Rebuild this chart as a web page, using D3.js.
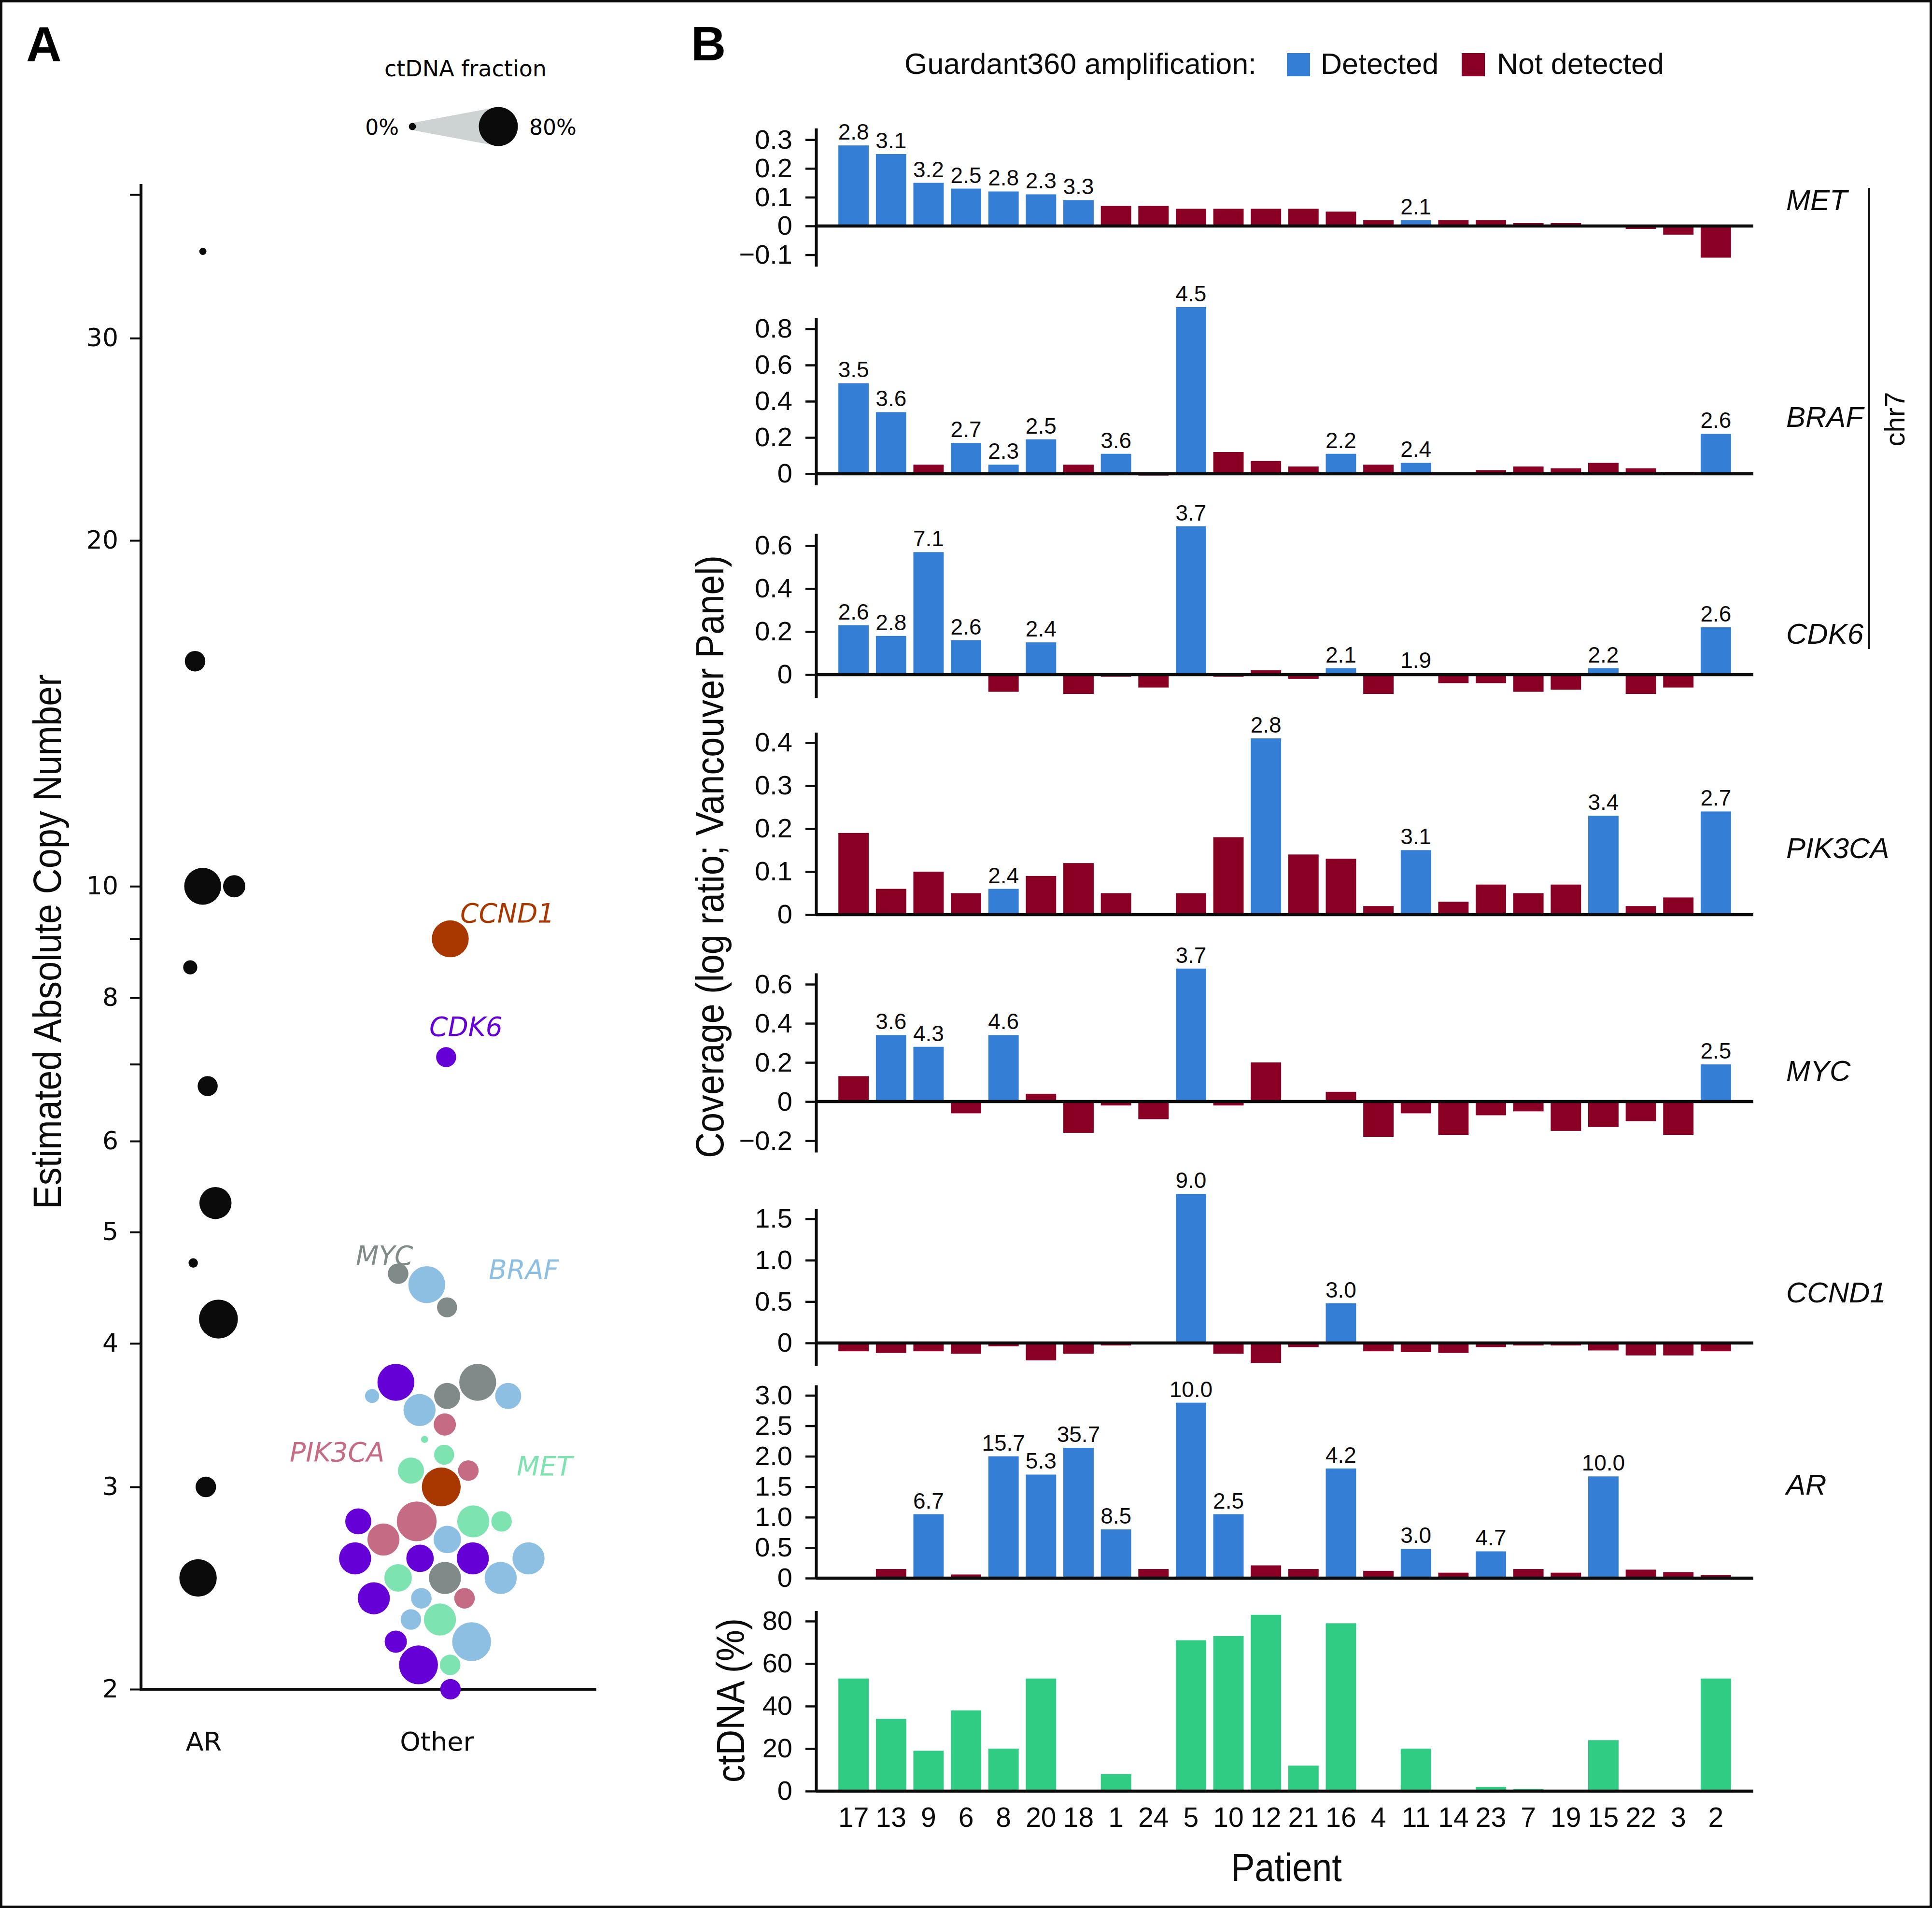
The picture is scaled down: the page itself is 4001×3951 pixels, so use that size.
<!DOCTYPE html>
<html><head><meta charset="utf-8">
<script src="https://cdn.jsdelivr.net/npm/d3@7"></script>
<style>body{margin:0;background:#fff}svg{display:block}</style>
</head><body>
<svg id="chart" width="4001" height="3951"></svg>
<script>
// ---------------- DATA ----------------
const patients = ["17","13","9","6","8","20","18","1","24","5","10","12","21","16","4","11","14","23","7","19","15","22","3","2"];
const ctDNA = [53,34,19,38,20,53,0,8,0,71,73,83,12,79,0,20,0,2,1,0,24,0,0,53];

const metLogRatio    = [0.28,0.25,0.15,0.13,0.12,0.11,0.09,0.07,0.07,0.06,0.06,0.06,0.06,0.05,0.02,0.02,0.02,0.02,0.01,0.01,0,-0.01,-0.03,-0.11];
const metCopies      = [2.8,3.1,3.2,2.5,2.8,2.3,3.3,null,null,null,null,null,null,null,null,2.1,null,null,null,null,null,null,null,null];
const brafLogRatio   = [0.50,0.34,0.05,0.17,0.05,0.19,0.05,0.11,-0.01,0.92,0.12,0.07,0.04,0.11,0.05,0.06,0,0.02,0.04,0.03,0.06,0.03,0.01,0.22];
const brafCopies     = [3.5,3.6,null,2.7,2.3,2.5,null,3.6,null,4.5,null,null,null,2.2,null,2.4,null,null,null,null,null,null,null,2.6];
const cdk6LogRatio   = [0.23,0.18,0.57,0.16,-0.08,0.15,-0.09,-0.01,-0.06,0.69,-0.01,0.02,-0.02,0.03,-0.09,0.004,-0.04,-0.04,-0.08,-0.07,0.03,-0.09,-0.06,0.22];
const cdk6Copies     = [2.6,2.8,7.1,2.6,null,2.4,null,null,null,3.7,null,null,null,2.1,null,1.9,null,null,null,null,2.2,null,null,2.6];
const pik3caLogRatio = [0.19,0.06,0.10,0.05,0.06,0.09,0.12,0.05,0,0.05,0.18,0.41,0.14,0.13,0.02,0.15,0.03,0.07,0.05,0.07,0.23,0.02,0.04,0.24];
const pik3caCopies   = [null,null,null,null,2.4,null,null,null,null,null,null,2.8,null,null,null,3.1,null,null,null,null,3.4,null,null,2.7];
const mycLogRatio    = [0.13,0.34,0.28,-0.06,0.34,0.04,-0.16,-0.02,-0.09,0.68,-0.02,0.20,0,0.05,-0.18,-0.06,-0.17,-0.07,-0.05,-0.15,-0.13,-0.10,-0.17,0.19];
const mycCopies      = [null,3.6,4.3,null,4.6,null,null,null,null,3.7,null,null,null,null,null,null,null,null,null,null,null,null,null,2.5];
const ccnd1LogRatio  = [-0.10,-0.12,-0.10,-0.13,-0.04,-0.21,-0.13,-0.03,0,1.80,-0.13,-0.24,-0.05,0.48,-0.10,-0.11,-0.12,-0.05,-0.03,-0.03,-0.09,-0.15,-0.15,-0.10];
const ccnd1Copies    = [null,null,null,null,null,null,null,null,null,9.0,null,null,null,3.0,null,null,null,null,null,null,null,null,null,null];
const arLogRatio     = [0,0.15,1.05,0.06,2.00,1.70,2.14,0.80,0.15,2.88,1.05,0.21,0.15,1.80,0.12,0.48,0.09,0.44,0.15,0.09,1.67,0.14,0.10,0.05];
const arCopies       = [null,null,6.7,null,15.7,5.3,35.7,8.5,null,10.0,2.5,null,null,4.2,null,3.0,null,4.7,null,null,10.0,null,null,null];

const geneNames   = ["MET","BRAF","CDK6","PIK3CA","MYC","CCND1","AR"];
const copyTicks   = [2,3,4,5,6,7,8,9,10,20,30,40];
const copyLabels  = [2,3,4,5,6,8,10,20,30];
const groups      = ["AR","Other"];

// ---------------- STYLE / LAYOUT ----------------
const SANS = "'Liberation Sans', Arial, Helvetica, sans-serif";
const GEO  = "'DejaVu Sans', Verdana, sans-serif";
const BLUE = "#347fd5", RED = "#8a0024", GREEN = "#30cc84";
const geneColor = {AR:"#0b0b0b", CCND1:"#a83800", CDK6:"#6500d6", MYC:"#808b89", BRAF:"#8dbfe3", PIK3CA:"#c66b84", MET:"#7de3b0"};

const svg = d3.select("#chart");
svg.append("rect").attr("x",0).attr("y",0).attr("width",4001).attr("height",3951).attr("fill","#fff");
svg.append("rect").attr("x",2.5).attr("y",2.5).attr("width",3996).attr("height",3946)
   .attr("fill","none").attr("stroke","#0b0b0b").attr("stroke-width",5);

// Panel letters
svg.append("text").attr("x",54).attr("y",127).attr("font-family",SANS).attr("font-weight","bold").attr("font-size",102).text("A");
svg.append("text").attr("x",1431).attr("y",125).attr("font-family",SANS).attr("font-weight","bold").attr("font-size",100).text("B");

// ================= PANEL B =================
const AX = 1690, AXR = 3631;
const x = d3.scaleBand().domain(patients).range([AX, AXR]).paddingInner(0.19).paddingOuter(0.595);

const series = {
  MET:{lr:metLogRatio, cn:metCopies}, BRAF:{lr:brafLogRatio, cn:brafCopies}, CDK6:{lr:cdk6LogRatio, cn:cdk6Copies},
  PIK3CA:{lr:pik3caLogRatio, cn:pik3caCopies}, MYC:{lr:mycLogRatio, cn:mycCopies},
  CCND1:{lr:ccnd1LogRatio, cn:ccnd1Copies}, AR:{lr:arLogRatio, cn:arCopies}
};
const layout = {
  MET:   {top:265.4, bottom:551.4, domain:[-0.14,0.34],  ticks:[-0.1,0,0.1,0.2,0.3], labelY:435},
  BRAF:  {top:658.1, bottom:1004.6,domain:[-0.063,0.861],ticks:[0,0.2,0.4,0.6,0.8], labelY:884},
  CDK6:  {top:1105,  bottom:1445,  domain:[-0.108,0.656],ticks:[0,0.2,0.4,0.6], labelY:1333},
  PIK3CA:{top:1516.6,bottom:1894,  domain:[0,0.424],     ticks:[0,0.1,0.2,0.3,0.4], labelY:1777},
  MYC:   {top:2015,  bottom:2386,  domain:[-0.259,0.657],ticks:[-0.2,0,0.2,0.4,0.6], labelY:2238},
  CCND1: {top:2503,  bottom:2828,  domain:[-0.274,1.622],ticks:[0,0.5,1,1.5], labelY:2697},
  AR:    {top:2868,  bottom:3268,  domain:[0,3.17],      ticks:[0,0.5,1,1.5,2,2.5,3], labelY:3095}
};
const fmtTick = v => v === 0 ? "0" : (v < 0 ? "\u2212" : "") + Math.abs(v).toFixed(1);
const fmtCN = d3.format(".1f");

function styleAxis(g, fontSize, family){
  g.select(".domain").attr("stroke","#0b0b0b").attr("stroke-width",6);
  g.selectAll(".tick line").attr("stroke","#0b0b0b").attr("stroke-width",4.5);
  g.selectAll(".tick text").attr("font-family",family).attr("font-size",fontSize).attr("fill","#0b0b0b");
}

geneNames.forEach(gene => {
  const L = layout[gene], S = series[gene];
  const y = d3.scaleLinear().domain(L.domain).range([L.bottom, L.top]);
  const g = svg.append("g");
  const rows = patients.map((p,i) => ({p, v:S.lr[i], cn:S.cn[i]}));
  g.selectAll("rect.bar").data(rows.filter(d => d.v !== 0)).join("rect")
    .attr("x", d => x(d.p)).attr("width", x.bandwidth())
    .attr("y", d => Math.min(y(d.v), y(0)))
    .attr("height", d => Math.abs(y(d.v) - y(0)))
    .attr("fill", d => d.cn != null ? BLUE : RED);
  g.selectAll("text.val").data(rows.filter(d => d.cn != null)).join("text")
    .attr("x", d => x(d.p) + x.bandwidth()/2)
    .attr("y", d => y(Math.max(d.v,0)) - 12)
    .attr("text-anchor","middle").attr("font-family",SANS).attr("font-size",46).attr("fill","#0b0b0b")
    .text(d => fmtCN(d.cn));
  g.append("line").attr("x1",AX).attr("x2",AXR).attr("y1",y(0)).attr("y2",y(0))
    .attr("stroke","#0b0b0b").attr("stroke-width",6.5);
  const ax = g.append("g").attr("transform",`translate(${AX},0)`)
    .call(d3.axisLeft(y).tickValues(L.ticks).tickSize(22).tickSizeOuter(0).tickPadding(27).tickFormat(fmtTick));
  styleAxis(ax, 56, SANS);
  g.append("text").attr("x",3699).attr("y",L.labelY).attr("font-family",SANS).attr("font-style","italic")
    .attr("font-size",60).attr("fill","#0b0b0b").text(gene);
});

// ctDNA panel
{
  const y = d3.scaleLinear().domain([0,84.9]).range([3709,3335.4]);
  const g = svg.append("g");
  g.selectAll("rect").data(patients.map((p,i)=>({p, v:ctDNA[i]})).filter(d=>d.v>0)).join("rect")
    .attr("x", d => x(d.p)).attr("width", x.bandwidth())
    .attr("y", d => y(d.v)).attr("height", d => y(0) - y(d.v)).attr("fill", GREEN);
  g.append("line").attr("x1",AX).attr("x2",AXR).attr("y1",y(0)).attr("y2",y(0))
    .attr("stroke","#0b0b0b").attr("stroke-width",6.5);
  const ax = g.append("g").attr("transform",`translate(${AX},0)`)
    .call(d3.axisLeft(y).tickValues([0,20,40,60,80]).tickSize(22).tickSizeOuter(0).tickPadding(27));
  styleAxis(ax, 56, SANS);
  const bx = g.append("g").attr("transform",`translate(0,${y(0)})`)
    .call(d3.axisBottom(x).tickSize(0).tickPadding(34));
  bx.select(".domain").remove();
  bx.selectAll(".tick text").attr("font-family",SANS).attr("font-size",57).attr("fill","#0b0b0b");
}

// chr7 bracket
svg.append("line").attr("x1",3870).attr("x2",3870).attr("y1",389).attr("y2",1344).attr("stroke","#0b0b0b").attr("stroke-width",4);
svg.append("text").attr("transform","translate(3944,868) rotate(-90)").attr("text-anchor","middle")
  .attr("font-family",SANS).attr("font-size",58).attr("fill","#0b0b0b").text("chr7");

// axis titles B
svg.append("text").attr("transform","translate(1498,1774) rotate(-90) scale(0.91,1)").attr("text-anchor","middle")
  .attr("font-family",SANS).attr("font-size",81).attr("fill","#0b0b0b").text("Coverage (log ratio; Vancouver Panel)");
svg.append("text").attr("transform","translate(1541,3521) rotate(-90) scale(0.9,1)").attr("text-anchor","middle")
  .attr("font-family",SANS).attr("font-size",81).attr("fill","#0b0b0b").text("ctDNA (%)");
svg.append("text").attr("transform","translate(2664,3895) scale(0.9,1)").attr("text-anchor","middle")
  .attr("font-family",SANS).attr("font-size",82).attr("fill","#0b0b0b").text("Patient");

// legend B
svg.append("text").attr("x",1873).attr("y",153).attr("font-family",SANS).attr("font-size",61).attr("fill","#0b0b0b").text("Guardant360 amplification:");
svg.append("rect").attr("x",2665).attr("y",110).attr("width",48).attr("height",48).attr("fill",BLUE);
svg.append("text").attr("x",2735).attr("y",153).attr("font-family",SANS).attr("font-size",61).attr("fill","#0b0b0b").text("Detected");
svg.append("rect").attr("x",3027).attr("y",110).attr("width",48).attr("height",48).attr("fill",RED);
svg.append("text").attr("x",3100).attr("y",153).attr("font-family",SANS).attr("font-size",61).attr("fill","#0b0b0b").text("Not detected");

// ================= PANEL A =================
const yL = d3.scaleLog().domain([2,40]).range([3498,403]).clamp(true);
const xL = d3.scalePoint().domain(groups).range([422,905]);
const areaScale = d3.scaleLinear().domain([0,80]).range([7.4*7.4, 40.5*40.5]);
const rad = c => Math.sqrt(areaScale(c));

// axes
svg.append("line").attr("x1",292).attr("x2",292).attr("y1",381).attr("y2",3501).attr("stroke","#0b0b0b").attr("stroke-width",6);
svg.append("line").attr("x1",289).attr("x2",1235).attr("y1",3498).attr("y2",3498).attr("stroke","#0b0b0b").attr("stroke-width",6);
const axL = svg.append("g").attr("transform","translate(292,0)")
  .call(d3.axisLeft(yL).tickValues(copyTicks).tickSize(23).tickPadding(24)
        .tickFormat(d => copyLabels.includes(d) ? String(d) : ""));
axL.select(".domain").remove();
axL.selectAll(".tick line").attr("stroke","#0b0b0b").attr("stroke-width",4);
axL.selectAll(".tick text").attr("font-family",GEO).attr("font-size",52).attr("fill","#0b0b0b");

groups.forEach(gname => {
  svg.append("text").attr("x",xL(gname)).attr("y",3625).attr("text-anchor","middle")
    .attr("font-family",GEO).attr("font-size",54).attr("fill","#0b0b0b").text(gname);
});
svg.append("text").attr("transform","translate(126,1950) rotate(-90) scale(0.9,1)").attr("text-anchor","middle")
  .attr("font-family",SANS).attr("font-size",82).attr("fill","#0b0b0b").text("Estimated Absolute Copy Number");

// nodes (jittered, collision-free beeswarm layout)
const nodes = [];
arCopies.forEach((cn,i) => { if (cn != null) nodes.push({group:"AR", gene:"AR", cn, ct:ctDNA[i]}); });
["MET","BRAF","CDK6","PIK3CA","MYC","CCND1"].forEach(gene => {
  series[gene].cn.forEach((cn,i) => { if (cn != null) nodes.push({group:"Other", gene, cn, ct:ctDNA[i]}); });
});
nodes.forEach((n,k) => {
  n.fy = yL(n.cn); n.y = n.fy;
  const u = ((k+1)*0.6180339887) % 1;
  n.x = xL(n.group) + (u - 0.5) * 150;
});
const sim = d3.forceSimulation(nodes)
  .force("x", d3.forceX(d => xL(d.group)).strength(0.012))
  .force("collide", d3.forceCollide(d => rad(d.ct) + 2).strength(1).iterations(4))
  .stop();
for (let t = 0; t < 300; t++) sim.tick();

svg.append("g").selectAll("circle").data(nodes).join("circle")
  .attr("cx", d => d.x).attr("cy", d => d.fy).attr("r", d => rad(d.ct))
  .attr("fill", d => geneColor[d.gene]);

// gene annotations
const annot = [
  {gene:"CCND1", x:953, y:1910}, {gene:"CDK6", x:889, y:2145}, {gene:"MYC", x:737, y:2619},
  {gene:"BRAF", x:1012, y:2648}, {gene:"PIK3CA", x:600, y:3026}, {gene:"MET", x:1070, y:3055}
];
svg.append("g").selectAll("text").data(annot).join("text")
  .attr("x", d => d.x).attr("y", d => d.y).attr("font-family",GEO).attr("font-style","italic")
  .attr("font-size",55).attr("fill", d => geneColor[d.gene]).text(d => d.gene);

// size legend
const lg = svg.append("g");
const lx0 = 854, lx1 = 1032, ly = 262;
lg.append("polygon").attr("points",
  [[lx0, ly - rad(0)], [lx1, ly - rad(80)], [lx1, ly + rad(80)], [lx0, ly + rad(0)]].map(p => p.join(",")).join(" "))
  .attr("fill","#cdd3d2");
lg.append("circle").attr("cx",lx0).attr("cy",ly).attr("r",rad(0)).attr("fill","#0b0b0b");
lg.append("circle").attr("cx",lx1).attr("cy",ly).attr("r",rad(80)).attr("fill","#0b0b0b");
lg.append("text").attr("x",826).attr("y",279).attr("text-anchor","end").attr("font-family",GEO).attr("font-size",44).text("0%");
lg.append("text").attr("x",1096).attr("y",279).attr("font-family",GEO).attr("font-size",44).text("80%");
lg.append("text").attr("x",964).attr("y",158).attr("text-anchor","middle").attr("font-family",GEO).attr("font-size",46).text("ctDNA fraction");
</script>
</body></html>
